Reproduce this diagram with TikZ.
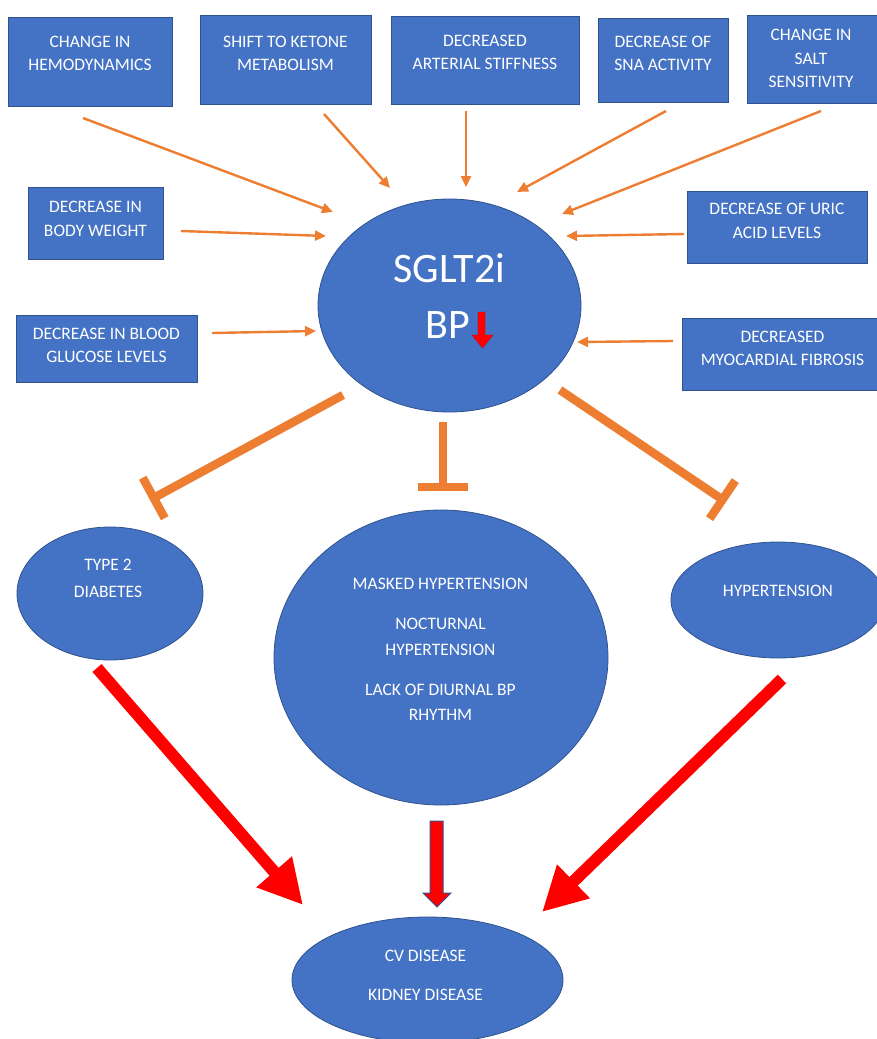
\documentclass[tikz,border=0pt]{standalone}
\usepackage{fontspec}
\setmainfont{Carlito}
\usetikzlibrary{arrows.meta,calc,shapes.geometric}
\definecolor{boxblue}{HTML}{4472C4}
\definecolor{edgeblue}{HTML}{2F528F}
\definecolor{orng}{HTML}{ED7D31}
\definecolor{redarr}{HTML}{FF0000}
\begin{document}
\begin{tikzpicture}[x=1pt,y=-1pt,
  factor/.style={rectangle, fill=boxblue, draw=edgeblue, line width=0.8pt, inner sep=0pt},
  blob/.style={ellipse, fill=boxblue, draw=edgeblue, line width=0.8pt, inner sep=0pt},
  lbl/.style={text=white, align=center, font=\fontsize{17.5}{23}\selectfont, inner sep=0pt},
  feed/.style={draw=orng, line width=2.4pt, -{Triangle[length=11pt,width=10pt]}},
  inhib/.style={draw=orng, line width=8.5pt, -{Bar[width=46pt]}},
  leads/.style={draw=redarr, line width=12pt, -{Triangle[length=44pt,width=44pt]}}
]
\useasboundingbox (0,0) rectangle (877,1039);
\clip (0,0) rectangle (877,1039);

% top factor boxes
\node[factor, minimum width=164pt, minimum height=89pt] (hemo) at (90,61.5) {};
\node[factor, minimum width=171pt, minimum height=89pt] (keto) at (285.5,59.5) {};
\node[factor, minimum width=188pt, minimum height=88pt] (stiff) at (485,60) {};
\node[factor, minimum width=130pt, minimum height=84pt] (sna) at (663,60) {};
\node[factor, minimum width=136pt, minimum height=88pt] (salt) at (815,59) {};
\node[lbl] (hemo-t) at (90,53.5) {CHANGE IN\\HEMODYNAMICS};
\node[lbl] (keto-t) at (285.5,53.5) {SHIFT TO KETONE\\METABOLISM};
\node[lbl] (stiff-t) at (485,52.5) {DECREASED\\ARTERIAL STIFFNESS};
\node[lbl] (sna-t) at (663,53.5) {DECREASE OF\\SNA ACTIVITY};
\node[lbl, font=\fontsize{17.5}{23.5}\selectfont] (salt-t) at (811,58.5) {CHANGE IN\\SALT\\SENSITIVITY};

% side factor boxes
\node[factor, minimum width=135pt, minimum height=72pt] (weight) at (95.5,223) {};
\node[factor, minimum width=181pt, minimum height=67pt] (gluc) at (106.5,348.5) {};
\node[factor, minimum width=180pt, minimum height=72pt] (uric) at (777,227) {};
\node[factor, minimum width=200pt, minimum height=72pt] (fibro) at (782,354) {};
\node[lbl, font=\fontsize{17.5}{24}\selectfont] (weight-t) at (95.5,219) {DECREASE IN\\BODY WEIGHT};
\node[lbl] (gluc-t) at (106.5,345.5) {DECREASE IN BLOOD\\GLUCOSE LEVELS};
\node[lbl, font=\fontsize{17.5}{24}\selectfont] (uric-t) at (777,221) {DECREASE OF URIC\\ACID LEVELS};
\node[lbl] (fibro-t) at (782.5,348.5) {DECREASED\\MYOCARDIAL FIBROSIS};

% central ellipse
\node[blob, minimum width=263pt, minimum height=213pt] (sglt) at (449.5,305.5) {};
\node[text=white, inner sep=0pt, font=\fontsize{42}{50}\selectfont] (sglt-t) at (449.5,268.5) {SGLT2i};
\node[text=white, inner sep=0pt, font=\fontsize{42}{50}\selectfont] (bp-t) at (447.5,325.5) {BP};
\draw[fill=redarr, draw=redarr!75!black, line width=0.3pt]
  (478,312) -- (485,312) -- (485,335) -- (493,335) -- (482.5,348) -- (472,335) -- (478,335) -- cycle;

% lower ellipses
\node[blob, minimum width=186pt, minimum height=133pt] (t2d) at (110,593.5) {};
\node[blob, minimum width=334pt, minimum height=295pt] (masked) at (441,657.5) {};
\node[blob, minimum width=214pt, minimum height=116pt] (htn) at (778,600) {};
\node[blob, minimum width=271pt, minimum height=126pt] (cvd) at (427.5,980) {};
\node[lbl, font=\fontsize{17.5}{27}\selectfont] (t2d-t) at (108,578.5) {TYPE 2\\DIABETES};
\node[lbl] (masked-t1) at (440.5,584) {MASKED HYPERTENSION};
\node[lbl, font=\fontsize{17.5}{26}\selectfont] (masked-t2) at (440.5,637) {NOCTURNAL\\HYPERTENSION};
\node[lbl, font=\fontsize{17.5}{25}\selectfont] (masked-t3) at (440.5,702.5) {LACK OF DIURNAL BP\\RHYTHM};
\node[lbl] (htn-t) at (778,591) {HYPERTENSION};
\node[lbl] (cvd-t1) at (425.5,956) {CV DISEASE};
\node[lbl] (cvd-t2) at (425.5,995) {KIDNEY DISEASE};

% connector end points
\coordinate (a1s) at (83,118);   \coordinate (a1e) at (333,212);
\coordinate (a2s) at (324,114);  \coordinate (a2e) at (390,188);
\coordinate (a3s) at (466,111);  \coordinate (a3e) at (466,187);
\coordinate (a4s) at (666,111);  \coordinate (a4e) at (517,192);
\coordinate (a5s) at (821,111);  \coordinate (a5e) at (562,214);
\coordinate (a6s) at (181,231);  \coordinate (a6e) at (326,236);
\coordinate (a7s) at (212,333);  \coordinate (a7e) at (316,331);
\coordinate (a8s) at (684,234);  \coordinate (a8e) at (566,236);
\coordinate (a9s) at (673,341);  \coordinate (a9e) at (577,342);

\coordinate (i1s) at (343,395);  \coordinate (i1e) at (150,500);
\coordinate (i2s) at (443,422);  \coordinate (i2e) at (443,491);
\coordinate (i3s) at (560,390);  \coordinate (i3e) at (726,502);

\coordinate (r1s) at (97,668);   \coordinate (r1e) at (303,905);
\coordinate (r2s) at (782,679);  \coordinate (r2e) at (542,912);
\coordinate (mt) at (436.5,821); \coordinate (mtip) at (437,907);

% thin orange arrows into SGLT2i
\draw[feed] (a1s) -- (a1e);
\draw[feed] (a2s) -- (a2e);
\draw[feed] (a3s) -- (a3e);
\draw[feed] (a4s) -- (a4e);
\draw[feed] (a5s) -- (a5e);
\draw[feed] (a6s) -- (a6e);
\draw[feed] (a7s) -- (a7e);
\draw[feed] (a8s) -- (a8e);
\draw[feed] (a9s) -- (a9e);

% inhibition bars
\draw[inhib] (i1s) -- (i1e);
\draw[inhib, -{Bar[width=50pt]}] (i2s) -- (i2e);
\draw[inhib] (i3s) -- (i3e);

% red arrows to CV / kidney disease
\draw[leads] (r1s) -- (r1e);
\draw[leads] (r2s) -- (r2e);
\draw[fill=redarr, draw=edgeblue, line width=1pt]
  ($(mt)+(-6.5,0)$) -- ($(mt)+(6.5,0)$) -- ($(mt)+(6.5,72)$) -- ($(mt)+(14.5,72)$)
  -- (mtip) -- ($(mt)+(-13.5,72)$) -- ($(mt)+(-6.5,72)$) -- cycle;
\end{tikzpicture}
\end{document}
